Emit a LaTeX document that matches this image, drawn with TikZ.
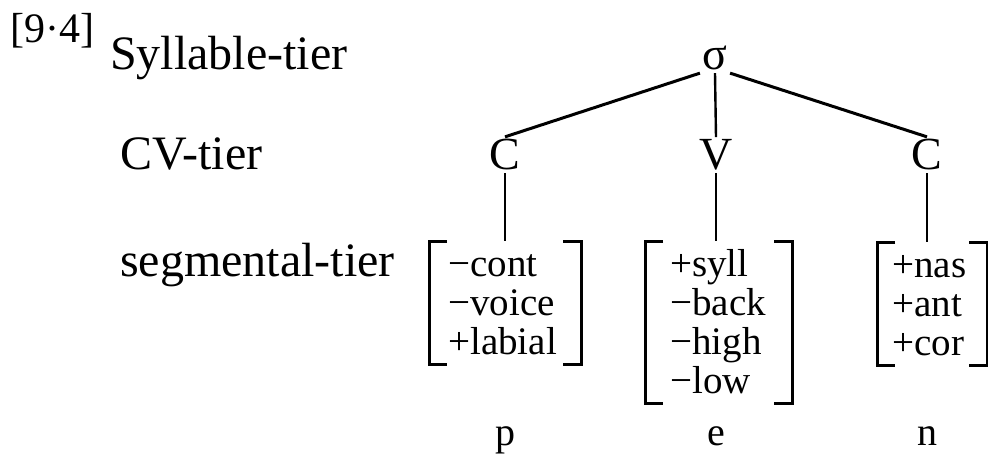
\documentclass[tikz,border=0pt]{standalone}
\usepackage{fontspec}
\setmainfont{Liberation Serif}
\newcommand\featbrackets[3]{%
  \draw[brk] ([xshift={-#2+18bp},yshift=8bp]#1.north west) -- ([xshift=-#2,yshift=8bp]#1.north west)
     -- ([xshift=-#2,yshift=2bp]#1.south west) -- ([xshift={-#2+18bp},yshift=2bp]#1.south west);
  \draw[brk] ([xshift={#3-18bp},yshift=8bp]#1.north east) -- ([xshift=#3,yshift=8bp]#1.north east)
     -- ([xshift=#3,yshift=2bp]#1.south east) -- ([xshift={#3-18bp},yshift=2bp]#1.south east);
  \coordinate (#1top) at ([yshift=8bp]#1.north);
}
\begin{document}
\begin{tikzpicture}[x=1bp,y=-1bp,
  lab/.style={anchor=base west, inner sep=0, font=\fontsize{48bp}{56bp}\selectfont},
  numlab/.style={anchor=base west, inner sep=0, font=\fontsize{42bp}{50bp}\selectfont},
  tiernode/.style={anchor=base, inner sep=2.5bp, font=\fontsize{46bp}{54bp}\selectfont},
  feat/.style={anchor=base west, inner sep=0, font=\fontsize{39bp}{39bp}\selectfont},
  seg/.style={anchor=base, inner sep=0, font=\fontsize{40bp}{48bp}\selectfont},
  assoc/.style={line width=3bp},
  vert/.style={line width=2.4bp},
  brk/.style={line width=3bp}]
\useasboundingbox (0,0) rectangle (988,457);
% labels
\node[numlab] (num) at (10,43) {[9·4]};
\node[lab] (l1) at (110,70) {Syllable-tier};
\node[lab] (l2) at (120,170) {CV-tier};
\node[lab] (l3) at (120,277) {segmental-tier};
% tiers
\node[tiernode] (sig) at (715,70) {σ};
\node[tiernode] (c1) at (505,170) {C};
\node[tiernode] (v) at (716,170) {V};
\node[tiernode] (c2) at (927,170) {C};
\draw[assoc] (sig.south west) -- (c1.north);
\draw[vert] (sig.south) -- (v.north);
\draw[assoc] (sig.south east) -- (c2.north);
% feature matrices
\node[feat] (m1) at (448,277) {\begin{tabular}[t]{@{}l@{}}−cont\\−voice\\+labial\end{tabular}};
\node[feat] (m2) at (670,277) {\begin{tabular}[t]{@{}l@{}}+syll\\−back\\−high\\−low\end{tabular}};
\node[feat] (m3) at (892,278) {\begin{tabular}[t]{@{}l@{}}+nas\\+ant\\+cor\end{tabular}};
\featbrackets{m1}{19bp}{24bp}
\featbrackets{m2}{25bp}{26bp}
\featbrackets{m3}{15bp}{21bp}
\draw[vert] (c1.south) -- (c1.south |- m1top);
\draw[vert] (v.south) -- (v.south |- m2top);
\draw[vert] (c2.south) -- (c2.south |- m3top);
% segments
\node[seg] (p) at (505,445) {p};
\node[seg] (e) at (716,445) {e};
\node[seg] (n) at (927,445) {n};
\end{tikzpicture}
\end{document}
